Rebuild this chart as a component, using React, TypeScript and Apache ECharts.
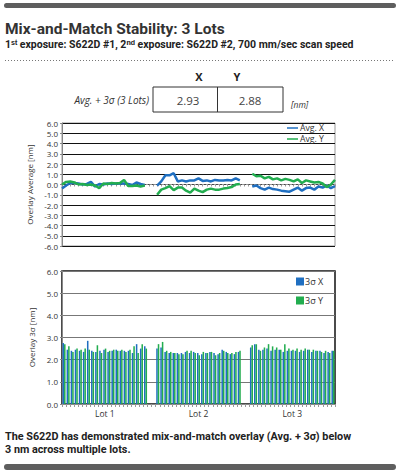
import React, { useEffect, useRef } from "react";
import * as echarts from "echarts";

// ---------- data ----------
const lotNames = ["Lot 1", "Lot 2", "Lot 3"];
const gapSize = 2; // empty slots between lots

const avgX_lot1 = [-0.4, -0.1, 0.15, 0.15, 0.1, 0.0, 0.05, 0.25, -0.2, 0.05, 0.0, 0.1, 0.05, 0.1, 0.1, 0.1, 0.05, -0.05, 0.2, 0.05, -0.05];
const avgY_lot1 = [0.0, 0.25, 0.3, 0.2, 0.0, 0.05, -0.05, 0.0, -0.1, -0.35, 0.1, 0.05, 0.15, 0.1, 0.15, 0.45, -0.15, -0.15, -0.1, -0.2, -0.1];
const avgX_lot2 = [-0.1, 0.3, 0.9, 0.9, 1.1, 0.3, 0.4, 0.3, 0.4, 0.4, 0.6, 0.35, 0.4, 0.3, 0.45, 0.4, 0.4, 0.45, 0.4, 0.6, 0.4];
const avgY_lot2 = [-1.0, -0.5, -0.35, -0.15, -0.55, -0.3, -0.3, -0.6, -0.8, -0.4, -0.6, -0.75, -0.5, -0.4, -0.5, -0.5, -0.4, -0.35, -0.25, 0.0, 0.05];
const avgX_lot3 = [-0.2, -0.1, -0.35, -0.5, -0.3, -0.45, -0.5, -0.6, -0.65, -0.7, -0.5, -0.3, -0.6, -0.35, -0.3, -0.5, -0.2, -0.3, -0.1, -0.35, -0.15];
const avgY_lot3 = [1.05, 0.8, 0.85, 0.6, 0.75, 0.5, 0.6, 0.4, 0.55, 0.45, 0.3, 0.5, 0.15, 0.4, 0.3, 0.2, 0.25, 0.1, -0.25, 0.0, 0.45];

const sigX_lot1 = [2.75, 2.45, 2.4, 2.45, 2.4, 2.35, 2.85, 2.4, 2.35, 2.4, 2.45, 2.35, 2.4, 2.45, 2.4, 2.4, 2.4, 2.3, 2.7, 2.5, 2.6];
const sigY_lot1 = [2.7, 2.6, 2.35, 2.5, 2.45, 2.5, 2.45, 2.35, 2.65, 2.3, 2.5, 2.4, 2.45, 2.4, 2.45, 2.35, 2.45, 2.6, 2.3, 2.7, 2.5];
const sigX_lot2 = [2.5, 2.55, 2.35, 2.3, 2.3, 2.3, 2.3, 2.35, 2.3, 2.35, 2.3, 2.25, 2.3, 2.35, 2.3, 2.25, 2.45, 2.35, 2.25, 2.25, 2.35];
const sigY_lot2 = [2.7, 2.8, 2.4, 2.35, 2.3, 2.25, 2.25, 2.4, 2.4, 2.3, 2.2, 2.35, 2.3, 2.35, 2.2, 2.3, 2.4, 2.3, 2.3, 2.35, 2.4];
const sigX_lot3 = [2.55, 2.7, 2.45, 2.45, 2.5, 2.4, 2.45, 2.45, 2.35, 2.4, 2.4, 2.4, 2.35, 2.4, 2.45, 2.35, 2.4, 2.4, 2.3, 2.35, 2.4];
const sigY_lot3 = [2.65, 2.7, 2.4, 2.55, 2.7, 2.6, 2.55, 2.45, 2.7, 2.5, 2.45, 2.5, 2.45, 2.5, 2.45, 2.45, 2.4, 2.35, 2.4, 2.3, 2.4];

const tableCols = ["X", "Y"];
const tableVals = ["2.93", "2.88"];

// ---------- helpers ----------
const BLUE = "#1f6fc1";
const GREEN = "#22ad4f";

function joinLots(lots: number[][]): (number | null)[] {
  const out: (number | null)[] = [];
  lots.forEach((l, k) => {
    out.push(...l);
    if (k < lots.length - 1) for (let g = 0; g < gapSize; g++) out.push(null);
  });
  return out;
}

const lotLens = [avgX_lot1.length, avgX_lot2.length, avgX_lot3.length];
const categories: string[] = [];
const catLabels: string[] = [];
lotLens.forEach((n, k) => {
  for (let i = 0; i < n; i++) {
    categories.push(`L${k + 1}-${i}`);
    catLabels.push(i === Math.floor(n / 2) ? lotNames[k] : "");
  }
  if (k < lotLens.length - 1)
    for (let g = 0; g < gapSize; g++) {
      categories.push(`G${k + 1}-${g}`);
      catLabels.push("");
    }
});

const avgX = joinLots([avgX_lot1, avgX_lot2, avgX_lot3]);
const avgY = joinLots([avgY_lot1, avgY_lot2, avgY_lot3]);
const sigX = joinLots([sigX_lot1, sigX_lot2, sigX_lot3]);
const sigY = joinLots([sigY_lot1, sigY_lot2, sigY_lot3]);

const FONT = "'Open Sans', 'Noto Sans', sans-serif";
const HFONT = "Roboto, 'Open Sans', sans-serif";

export default function App() {
  const ref = useRef<HTMLDivElement>(null);
  useEffect(() => {
    if (!ref.current) return;
    const chart = echarts.init(ref.current, undefined, { renderer: "svg" });
    const axisLabel = { fontSize: 8, color: "#333", fontFamily: FONT, margin: 4, formatter: (v: number) => v.toFixed(1) };
    const option: any = {
      animation: false,
      backgroundColor: "#fff",
      textStyle: { fontFamily: FONT },
      grid: [
        { left: 62, top: 123, width: 273, height: 123, show: true, borderColor: "#999", borderWidth: 1 },
        { left: 62, top: 271, width: 273, height: 133, show: true, borderColor: "#111", borderWidth: 1.5 },
      ],
      xAxis: [
        {
          gridIndex: 0, type: "category", data: categories, boundaryGap: false,
          axisLine: { onZero: true, lineStyle: { color: "#999", type: [2, 2] } },
          axisTick: { show: true, interval: 0, length: 2, lineStyle: { color: "#999" } },
          axisLabel: { show: false },
        },
        {
          gridIndex: 1, type: "category", data: categories, boundaryGap: true,
          axisLine: { lineStyle: { color: "#888" } },
          axisTick: { show: true, interval: 0, length: 3, lineStyle: { color: "#999" } },
          axisLabel: { interval: 0, fontSize: 8.5, color: "#333", fontFamily: FONT, margin: 5, formatter: (_v: string, i: number) => catLabels[i] },
        },
      ],
      yAxis: [
        {
          gridIndex: 0, type: "value", min: -6, max: 6, interval: 1,
          axisLine: { show: true, lineStyle: { color: "#888" } },
          axisTick: { show: true, length: 2, lineStyle: { color: "#888" } },
          splitLine: { lineStyle: { color: "#111", width: 1 } },
          axisLabel,
          name: "Overlay Average [nm]", nameLocation: "middle", nameGap: 18, nameRotate: 90,
          nameTextStyle: { fontSize: 8, color: "#333", fontFamily: FONT },
        },
        {
          gridIndex: 1, type: "value", min: 0, max: 6, interval: 1,
          axisLine: { show: true, lineStyle: { color: "#888" } },
          axisTick: { show: true, length: 2, lineStyle: { color: "#888" } },
          splitLine: { lineStyle: { color: "#777", width: 1 } },
          axisLabel,
          name: "Overlay 3σ [nm]", nameLocation: "middle", nameGap: 18, nameRotate: 90,
          nameTextStyle: { fontSize: 8, color: "#333", fontFamily: FONT },
        },
      ],
      legend: [
        {
          data: ["Avg. X", "Avg. Y"], orient: "vertical", left: 287, top: 123, itemGap: 1,
          icon: "rect", itemWidth: 11, itemHeight: 1.5, padding: 0,
          textStyle: { fontSize: 8.7, lineHeight: 10, color: "#333", fontFamily: FONT, padding: [0, 0, 0, -3] },
        },
        {
          data: ["3σ X", "3σ Y"], orient: "vertical", left: 296, top: 277, itemGap: 10,
          icon: "rect", itemWidth: 8, itemHeight: 8, padding: 0,
          textStyle: { fontSize: 9, color: "#333", fontFamily: FONT, padding: [0, 0, 0, -4] },
        },
      ],
      series: [
        { name: "Avg. X", type: "line", xAxisIndex: 0, yAxisIndex: 0, data: avgX, showSymbol: false, symbol: "none", connectNulls: false, lineStyle: { color: BLUE, width: 2.5 }, itemStyle: { color: BLUE } },
        { name: "Avg. Y", type: "line", xAxisIndex: 0, yAxisIndex: 0, data: avgY, showSymbol: false, symbol: "none", connectNulls: false, lineStyle: { color: GREEN, width: 2.5 }, itemStyle: { color: GREEN } },
        { name: "3σ X", type: "bar", xAxisIndex: 1, yAxisIndex: 1, data: sigX, itemStyle: { color: BLUE }, barGap: "0%", barCategoryGap: "25%" },
        { name: "3σ Y", type: "bar", xAxisIndex: 1, yAxisIndex: 1, data: sigY, itemStyle: { color: GREEN }, barGap: "0%", barCategoryGap: "25%" },
      ],
      graphic: [
        { type: "rect", shape: { x: 4, y: 3, width: 392, height: 5, r: 2.5 }, style: { fill: "#5e5e5e" } },
        { type: "text", x: 5, y: 29, style: { text: "Mix-and-Match Stability: 3 Lots", fontSize: 15.5, lineHeight: 15, fontWeight: "bold", fill: "#333", fontFamily: HFONT, verticalAlign: "middle" } },
        {
          type: "text", x: 5, y: 44.8,
          style: {
            text: "1ˢᵗ exposure: S622D #1, 2ⁿᵈ exposure: S622D #2, 700 mm/sec scan speed",
            fontSize: 10.5, lineHeight: 11, fontWeight: "bold", fill: "#222", fontFamily: HFONT, verticalAlign: "middle",
          },
        },
        { type: "line", shape: { x1: 5, y1: 60.5, x2: 395, y2: 60.5 }, style: { stroke: "#777", lineWidth: 1, lineDash: [1, 2] } },
        { type: "text", x: 199, y: 76, style: { text: tableCols[0], fontSize: 11, fontWeight: "bold", fill: "#222", fontFamily: FONT, align: "center", verticalAlign: "middle" } },
        { type: "text", x: 237, y: 76, style: { text: tableCols[1], fontSize: 11, fontWeight: "bold", fill: "#222", fontFamily: FONT, align: "center", verticalAlign: "middle" } },
        { type: "rect", shape: { x: 153, y: 87, width: 130, height: 25 }, style: { fill: "none", stroke: "#333", lineWidth: 1 } },
        { type: "line", shape: { x1: 217.5, y1: 87, x2: 217.5, y2: 112 }, style: { stroke: "#333", lineWidth: 1 } },
        { type: "text", x: 188, y: 100, style: { text: tableVals[0], fontSize: 11.5, fill: "#444", fontFamily: FONT, align: "center", verticalAlign: "middle" } },
        { type: "text", x: 250, y: 100, style: { text: tableVals[1], fontSize: 11.5, fill: "#444", fontFamily: FONT, align: "center", verticalAlign: "middle" } },
        { type: "text", x: 149, y: 100, style: { text: "Avg. + 3σ (3 Lots)", fontSize: 10, fontStyle: "italic", fill: "#333", fontFamily: FONT, align: "right", verticalAlign: "middle" } },
        { type: "text", x: 291, y: 104, style: { text: "[nm]", fontSize: 8.5, fontStyle: "italic", fill: "#333", fontFamily: FONT, align: "left", verticalAlign: "middle" } },
        {
          type: "text", x: 5, y: 436,
          style: {
            text: "The S622D has demonstrated mix-and-match overlay (Avg. + 3σ) below",
            fontSize: 10.8, lineHeight: 11, fontWeight: "bold", fill: "#222", fontFamily: HFONT, verticalAlign: "middle",
          },
        },
        {
          type: "text", x: 5, y: 449,
          style: {
            text: "3 nm across multiple lots.",
            fontSize: 10.8, lineHeight: 11, fontWeight: "bold", fill: "#222", fontFamily: HFONT, verticalAlign: "middle",
          },
        },
        { type: "rect", shape: { x: 4, y: 464, width: 392, height: 6, r: 3 }, style: { fill: "#5e5e5e" } },
      ],
    };
    chart.setOption(option);
    return () => chart.dispose();
  }, []);
  return (
    <div
      ref={ref}
      style={{ position: "absolute", left: 0, top: 0, width: 399, height: 473, background: "#fff" }}
    />
  );
}
